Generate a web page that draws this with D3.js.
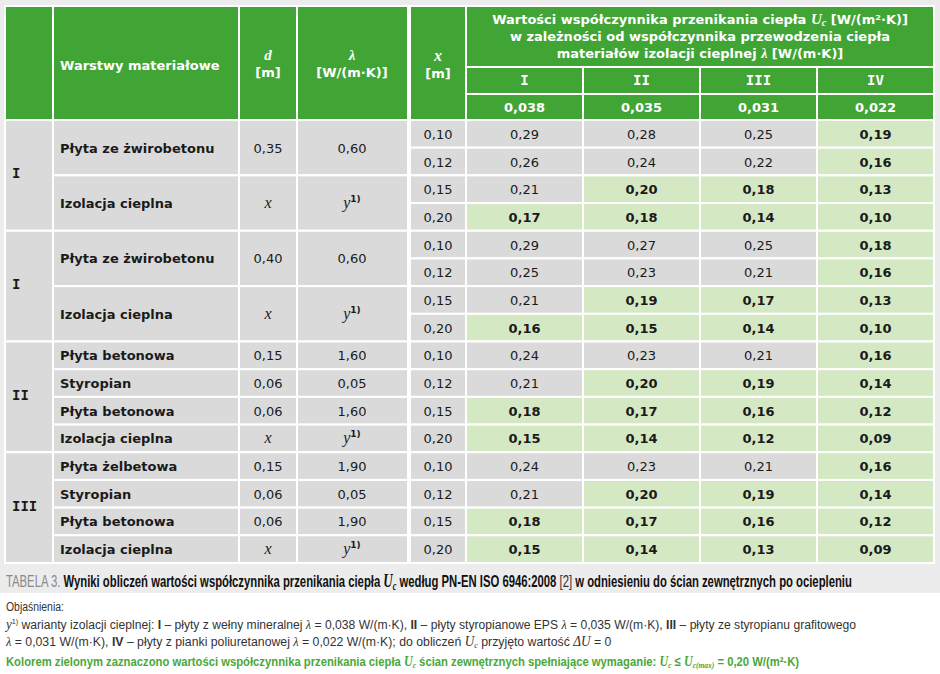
<!DOCTYPE html>
<html><head><meta charset="utf-8">
<script src="https://cdn.jsdelivr.net/npm/d3@7"></script>
<style>
html,body{margin:0;padding:0;background:#fff;}
svg{display:block;}
text{font-family:"DejaVu Sans",Verdana,sans-serif;}
.it{font-family:"Liberation Serif","Times New Roman",serif;font-style:italic;}
.rom{font-family:"DejaVu Sans Mono",monospace;font-weight:bold;}
.cond{font-family:"Liberation Sans",Arial,sans-serif;}
.note{font-family:"Liberation Sans",Arial,sans-serif;}
.sup{font-family:"DejaVu Sans",sans-serif;font-style:normal;font-weight:bold;}
</style></head>
<body>
<svg id="c" width="940" height="674"></svg>
<script>
// ---- data ----
const groupLabels = ["I", "I", "II", "III"];
const layerNames = [
  ["Płyta ze żwirobetonu", "Izolacja cieplna"],
  ["Płyta ze żwirobetonu", "Izolacja cieplna"],
  ["Płyta betonowa", "Styropian", "Płyta betonowa", "Izolacja cieplna"],
  ["Płyta żelbetowa", "Styropian", "Płyta betonowa", "Izolacja cieplna"]
];
const layerD = [
  ["0,35", "x"], ["0,40", "x"],
  ["0,15", "0,06", "0,06", "x"], ["0,15", "0,06", "0,06", "x"]
];
const layerLambda = [
  ["0,60", "y"], ["0,60", "y"],
  ["1,60", "0,05", "1,60", "y"], ["1,90", "0,05", "1,90", "y"]
];
const thicknessX = [0.10, 0.12, 0.15, 0.20];
const variants = ["I", "II", "III", "IV"];
const variantLambda = ["0,038", "0,035", "0,031", "0,022"];
const uValues = [
  [0.29, 0.28, 0.25, 0.19], [0.26, 0.24, 0.22, 0.16], [0.21, 0.20, 0.18, 0.13], [0.17, 0.18, 0.14, 0.10],
  [0.29, 0.27, 0.25, 0.18], [0.25, 0.23, 0.21, 0.16], [0.21, 0.19, 0.17, 0.13], [0.16, 0.15, 0.14, 0.10],
  [0.24, 0.23, 0.21, 0.16], [0.21, 0.20, 0.19, 0.14], [0.18, 0.17, 0.16, 0.12], [0.15, 0.14, 0.12, 0.09],
  [0.24, 0.23, 0.21, 0.16], [0.21, 0.20, 0.19, 0.14], [0.18, 0.17, 0.16, 0.12], [0.15, 0.14, 0.13, 0.09]
];
const uMax = 0.20;

// ---- styles ----
const C = {bg:"#ececec", head:"#41a536", gray:"#dadada", green:"#d5e8c4", line:"#ffffff", txt:"#1a1a1a", noteGreen:"#4aa838"};
const fmt = v => d3.format(".2f")(v).replace(".", ",");

const svg = d3.select("#c");
svg.append("rect").attr("width",940).attr("height",593).attr("fill",C.bg);

const nRows = uValues.length;
const yRow = d3.scaleBand().domain(d3.range(nRows)).range([120, 563]);
const rh = yRow.bandwidth();
const xVar = d3.scaleBand().domain(variants).range([466, 934]);
const L = {c0:[5,53], c1:[53,239], c2:[239,297], c3:[297,408], cx:[410,466]};
const headTop = 6, headBot = 120, hRow1 = 67, hRow2 = 94;

function cell(x0,x1,y0,y1,fill){
  svg.append("rect").attr("x",x0).attr("y",y0).attr("width",x1-x0).attr("height",y1-y0)
    .attr("fill",fill).attr("stroke",C.line).attr("stroke-width",2);
}
function txt(x,y,s,opt={}){
  const t = svg.append("text").attr("x",x).attr("y",y).text(s)
    .attr("font-size",opt.size||13).attr("fill",opt.fill||C.txt)
    .attr("font-weight",opt.bold?"bold":"normal")
    .attr("text-anchor",opt.anchor||"middle");
  if(opt.cls) t.attr("class",opt.cls);
  return t;
}
function fitWidth(t, x0, target){
  const w = t.node().getBBox().width;
  const k = target / w;
  t.attr("transform",`translate(${x0},0) scale(${k},1) translate(${-x0},0)`);
}

// ---- header ----
[L.c0,L.c1,L.c2,L.c3,L.cx].forEach(c=>cell(c[0],c[1],headTop,headBot,C.head));
cell(466,934,headTop,hRow1,C.head);
variants.forEach(v=>{cell(xVar(v),xVar(v)+xVar.bandwidth(),hRow1,hRow2,C.head);cell(xVar(v),xVar(v)+xVar.bandwidth(),hRow2,headBot,C.head);});

txt(60,70,"Warstwy materiałowe",{bold:true,fill:"#fff",anchor:"start"});
txt(268,60,"d",{cls:"it",fill:"#fff",size:15,bold:true});
txt(268,77,"[m]",{bold:true,fill:"#fff"});
txt(352,60,"λ",{cls:"it",fill:"#fff",size:15,bold:true});
txt(352,77,"[W/(m·K)]",{bold:true,fill:"#fff"});
txt(438,61,"x",{cls:"it",fill:"#fff",size:16,bold:true});
txt(438,78,"[m]",{bold:true,fill:"#fff"});

const cxh = (466+934)/2;
const t1 = txt(cxh,24,"Wartości współczynnika przenikania ciepła ",{bold:true,fill:"#fff"});
t1.append("tspan").attr("class","it").attr("font-size",15).text("U");
t1.append("tspan").attr("class","it").attr("font-size",10).attr("dy",2).text("c");
t1.append("tspan").attr("dy",-2).text(" [W/(m²·K)]");
txt(cxh,41,"w zależności od współczynnika przewodzenia ciepła",{bold:true,fill:"#fff"});
const t3 = txt(cxh,58,"materiałów izolacji cieplnej ",{bold:true,fill:"#fff"});
t3.append("tspan").attr("class","it").attr("font-size",14).text("λ");
t3.append("tspan").text(" [W/(m·K)]");

variants.forEach((v,i)=>{
  txt(xVar(v)+xVar.bandwidth()/2,85,v,{fill:"#fff",cls:"rom",size:14});
  txt(xVar(v)+xVar.bandwidth()/2,112,variantLambda[i],{bold:true,fill:"#fff"});
});

// ---- body left ----
let r = 0;
groupLabels.forEach((g,gi)=>{
  const nL = layerNames[gi].length, span = 4/nL;
  const gy0 = yRow(r), gy1 = yRow(r+3)+rh;
  cell(L.c0[0],L.c0[1],gy0,gy1,C.gray);
  txt(12,(gy0+gy1)/2+3,g,{cls:"rom",anchor:"start",size:14});
  layerNames[gi].forEach((name,li)=>{
    const y0 = yRow(r+li*span), y1 = yRow(r+li*span+span-1)+rh, ym=(y0+y1)/2+5;
    cell(L.c1[0],L.c1[1],y0,y1,C.gray);
    cell(L.c2[0],L.c2[1],y0,y1,C.gray);
    cell(L.c3[0],L.c3[1],y0,y1,C.gray);
    txt(60,ym,name,{bold:true,anchor:"start"});
    const dv = layerD[gi][li];
    if(dv==="x") txt(268,ym,"x",{cls:"it",size:16});
    else txt(268,ym,dv);
    const lv = layerLambda[gi][li];
    if(lv==="y"){
      const t = txt(352,ym,"y",{cls:"it",size:16});
      t.append("tspan").attr("class","sup").attr("dy",-6).attr("font-size",9).text("1)");
    } else txt(352,ym,lv);
  });
  r += 4;
});

// ---- body right ----
uValues.forEach((row,i)=>{
  const y0 = yRow(i), ym = y0+rh/2+5;
  cell(L.cx[0],L.cx[1],y0,y0+rh,C.gray);
  txt(438,ym,fmt(thicknessX[i%4]));
  row.forEach((v,j)=>{
    const ok = v <= uMax + 1e-9;
    const x0 = xVar(variants[j]);
    cell(x0,x0+xVar.bandwidth(),y0,y0+rh,ok?C.green:C.gray);
    txt(x0+xVar.bandwidth()/2,ym,fmt(v),{bold:ok});
  });
});

// ---- caption ----
const cap = svg.append("text").attr("class","cond").attr("x",6).attr("y",587).attr("font-size",16.5);
cap.append("tspan").attr("fill","#8a8a8a").text("TABELA 3. ");
cap.append("tspan").attr("font-weight","bold").attr("fill","#111").text("Wyniki obliczeń wartości współczynnika przenikania ciepła ");
cap.append("tspan").attr("class","it").attr("font-weight","bold").attr("font-size",19).attr("fill","#111").text("U");
cap.append("tspan").attr("class","it").attr("font-weight","bold").attr("font-size",12).attr("dy",3).attr("fill","#111").text("c");
cap.append("tspan").attr("dy",-3).attr("font-weight","bold").attr("fill","#111").text(" według PN-EN ISO 6946:2008 ");
cap.append("tspan").attr("fill","#333").text("[2]");
cap.append("tspan").attr("font-weight","bold").attr("fill","#111").text(" w odniesieniu do ścian zewnętrznych po ociepleniu");
fitWidth(cap, 6, 847);

// ---- notes ----
function note(y, parts, target, opts={}){
  const t = svg.append("text").attr("class","note").attr("x",6).attr("y",y).attr("font-size",opts.size||13.5)
    .attr("fill",opts.fill||"#333").attr("font-weight",opts.bold?"bold":"normal");
  parts.forEach(p=>{
    const s = t.append("tspan").text(p.t);
    if(p.it) s.attr("class","it").attr("font-size",p.size||14.5);
    if(p.b) s.attr("font-weight","bold");
    if(p.dy) s.attr("dy",p.dy);
    if(p.size && !p.it) s.attr("font-size",p.size);
  });
  fitWidth(t, 6, target);
  return t;
}
note(611,[{t:"Objaśnienia:"}], 58);
note(629,[{t:"y",it:true},{t:"1)",size:8,dy:-5},{t:" warianty izolacji cieplnej: ",dy:5},{t:"I",b:true},{t:" – płyty z wełny mineralnej "},{t:"λ",it:true,size:13.5},
  {t:" = 0,038 W/(m·K), "},{t:"II",b:true},{t:" – płyty styropianowe EPS "},{t:"λ",it:true,size:13.5},{t:" = 0,035 W/(m·K), "},{t:"III",b:true},{t:" – płyty ze styropianu grafitowego"}], 852);
note(646,[{t:"λ",it:true,size:13.5},{t:" = 0,031 W/(m·K), "},{t:"IV",b:true},{t:" – płyty z pianki poliuretanowej "},{t:"λ",it:true,size:13.5},
  {t:" = 0,022 W/(m·K); do obliczeń "},{t:"U",it:true},{t:"c",it:true,size:9,dy:2},{t:" przyjęto wartość ",dy:-2},{t:"ΔU",it:true},{t:" = 0"}], 607);
note(666,[{t:"Kolorem zielonym zaznaczono wartości współczynnika przenikania ciepła "},{t:"U",it:true},{t:"c",it:true,size:9,dy:2},
  {t:" ścian zewnętrznych spełniające wymaganie: ",dy:-2},{t:"U",it:true},{t:"c",it:true,size:9,dy:2},{t:" ≤ ",dy:-2},{t:"U",it:true},{t:"c(max)",it:true,size:9,dy:2},
  {t:" = 0,20 W/(m²·K)",dy:-2}], 794, {fill:C.noteGreen,bold:true});
</script>
</body></html>
